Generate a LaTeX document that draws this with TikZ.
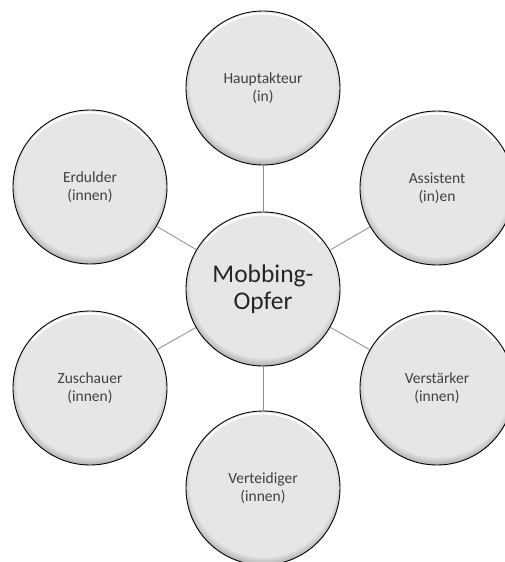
\documentclass[tikz,border=0pt]{standalone}
\usepackage{fontspec}
\setmainfont{Carlito}
\definecolor{ballg}{HTML}{E6E6E6}
\definecolor{ballmid}{HTML}{B0B0B0}
\definecolor{ballshadow}{HTML}{5A5A5A}
\definecolor{txtgray}{HTML}{404040}
\definecolor{txtdark}{HTML}{262626}
\definecolor{linegray}{HTML}{8C8C8C}
\pgfdeclareradialshading{ball}{\pgfpoint{0bp}{3bp}}{color(0bp)=(ballg); color(23.8bp)=(ballg); color(26.3bp)=(ballmid); color(28bp)=(ballshadow); color(50bp)=(ballshadow)}
\begin{document}
\begin{tikzpicture}[x=1pt,y=1pt,
  ball/.style={circle, minimum size=154pt, inner sep=0pt, shading=ball,
    draw=black, line width=0.9pt, align=center, text=txtgray,
    font=\fontsize{15.5}{18}\selectfont,
    path picture={\draw[white, line width=2pt, line cap=round]
      (path picture bounding box.center) ++(40:74.5) arc (40:140:74.5);}},
  hub/.style={ball, text=txtdark, font=\fontsize{25.5}{27}\selectfont},
  link/.style={draw=linegray, line width=0.8pt}]
\useasboundingbox (0,0) rectangle (504,-562);
\node[hub]  (c)  at (263,-289) {Mobbing-\\Opfer};
\node[ball] (t)  at (263,-88)  {Hauptakteur\\(in)};
\node[ball] (b)  at (263,-488) {Verteidiger\\(innen)};
\node[ball] (ul) at (90,-187)  {Erdulder\\(innen)};
\node[ball] (ll) at (90,-388)  {Zuschauer\\(innen)};
\node[ball] (ur) at (437,-188) {Assistent\\(in)en};
\node[ball] (lr) at (437,-388) {Verstärker\\(innen)};
\foreach \n in {t,b,ul,ll,ur,lr} \draw[link] (c) -- (\n);
\end{tikzpicture}
\end{document}
